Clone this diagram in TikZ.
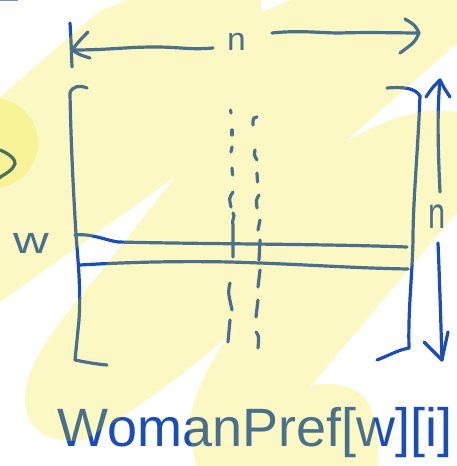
\documentclass[tikz,border=0pt]{standalone}
\usepackage{fontspec}
\setmainfont{Liberation Sans}
\definecolor{inkblue}{RGB}{26,77,181}
\definecolor{hlyellow}{RGB}{242,229,0}
\definecolor{inkgreen}{RGB}{74,112,96}
\tikzset{
  ink/.style={draw=inkblue, line width=3.2pt, line cap=round, line join=round},
  hl/.style={fill=hlyellow, fill opacity=0.23},
  txt/.style={text=inkblue, inner sep=0pt}
}
\begin{document}
\begin{tikzpicture}[x=1pt,y=-1pt]
\useasboundingbox (0,0) rectangle (457,466);
\fill[white] (0,0) rectangle (457,466);

% ---------- ink ----------
% top dimension arrow
\coordinate (tl) at (72,50);
\coordinate (tr) at (419,33);
\draw[ink] (70,23) .. controls (71,40) .. (72,67);
\draw[ink] (88,32) .. controls (80,40) .. (tl) .. controls (80,55) .. (90,58);
\draw[ink] (tl) .. controls (110,50) and (125,47) .. (155,47) .. controls (180,47) and (190,50) .. (213,48);
\node[txt, font=\fontsize{32}{32}\selectfont, anchor=base, xscale=1.05] (ntop) at (236.5,50) {n};
\draw[ink] (272,33) .. controls (300,30) and (320,33) .. (340,33) .. controls (370,32) and (400,33) .. (tr);
\draw[ink] (405,19) .. controls (415,25) .. (tr) .. controls (415,42) .. (400,53);

% left bracket
\draw[ink] (87,88) .. controls (80,85) and (72,86) .. (70,93) .. controls (71,150) and (74,200) .. (76,235)
  .. controls (78,260) and (81,290) .. (79,320) .. controls (77,340) .. (75,360)
  .. controls (85,362) and (95,364) .. (107,365);
% right bracket
\draw[ink] (387,88) .. controls (400,87) and (415,87) .. (420,96) .. controls (418,150) and (413,200) .. (413,240)
  .. controls (412,280) and (408,310) .. (409,348) .. controls (398,350) and (390,355) .. (377,360);

% row w
\draw[ink] (75,235) .. controls (90,233) and (105,240) .. (118,242) .. controls (200,244) and (330,244) .. (407,247);
\draw[ink] (80,265) .. controls (130,262) and (180,261) .. (230,262) .. controls (300,264) and (350,268) .. (408,269);
\node[txt, font=\fontsize{38}{38}\selectfont, anchor=base, xscale=1.3] (wlab) at (31.5,253) {w};

% vertical dimension arrow
\coordinate (vt) at (440,80);
\coordinate (vb) at (442,360);
\draw[ink] (440,192) .. controls (438,150) and (437,110) .. (vt);
\draw[ink] (426,97) .. controls (432,88) .. (vt) .. controls (444,88) .. (450,97);
\node[txt, font=\fontsize{44}{44}\selectfont, anchor=base, xscale=0.7] (nright) at (437.5,228) {n};
\draw[ink] (438,243) .. controls (440,290) and (441,330) .. (vb);
\draw[ink] (424,342) .. controls (432,350) .. (vb) .. controls (444,350) .. (448,332);

% dashed column (left)
\draw[ink] (230.5,110) -- (231,113);
\draw[ink] (232,130) -- (232,135);
\draw[ink] (232,147) -- (231,152);
\draw[ink] (232,168) -- (232.5,175);
\draw[ink] (233,192) .. controls (229,198) .. (231,207);
\draw[ink] (233,213) .. controls (236,217) and (231,220) .. (233,225) -- (233,257);
\draw[ink] (230,283) .. controls (228,292) .. (232,310);
\draw[ink] (230,320) -- (228,342);
% dashed column (right)
\draw[ink] (257,117) .. controls (253,118) .. (253,125);
\draw[ink] (255,150) .. controls (254,155) .. (257,160);
\draw[ink] (257,173) -- (257.5,182);
\draw[ink] (259,195) .. controls (256,200) .. (257,208);
\draw[ink] (260,220) -- (258,230);
\draw[ink] (260,240) -- (259,260);
\draw[ink] (260,270) -- (258,287);
\draw[ink] (258,300) -- (256,317);
\draw[ink] (256,332) .. controls (259,336) .. (258,348);

% caption
\node[txt, font=\fontsize{54}{54}\selectfont, anchor=base west] (caption) at (57,446) {WomanPref[w][i]};

\draw[inkblue!60, line width=1.5pt] (0,0.5) -- (18,0.5);

% ---------- highlighter ----------
\fill[hl, even odd rule] (-10,-10) rectangle (470,480)
  % W1 top-left corner
  (-5,-5) -- (128,-5) -- (127,0) .. controls (118,4) and (105,8) .. (97,13) -- (0,97) -- (-5,101) -- cycle
  % W2 top notch
  (261,-5) -- (292,-5) -- (291,0) -- (261,12) -- cycle
  % W3 right wedge
  (345,142) -- (462,39) -- (462,113) .. controls (420,104) and (380,122) .. (345,142) -- cycle
  % W4 bottom-left
  (-5,306) -- (175,177) -- (110,260) .. controls (75,305) and (25,355) .. (25,400)
    .. controls (25,430) and (50,445) .. (83,440) .. controls (130,415) and (190,370) .. (228,336)
    .. controls (205,370) and (185,410) .. (190,440) -- (198,471) -- (-5,471) -- cycle
  % W5 bottom-right
  (310,387) .. controls (325,380) and (350,385) .. (362,395) .. controls (376,410) and (380,440) .. (377,471)
    -- (462,471) -- (462,206) -- cycle;
% brighter spot at left
\fill[hl] (-7,143) circle[radius=45];
\draw[ink, draw=inkgreen] (0,150) .. controls (10,154) and (16,160) .. (15,164) .. controls (13,170) and (5,174) .. (-1,178);
\end{tikzpicture}
\end{document}
